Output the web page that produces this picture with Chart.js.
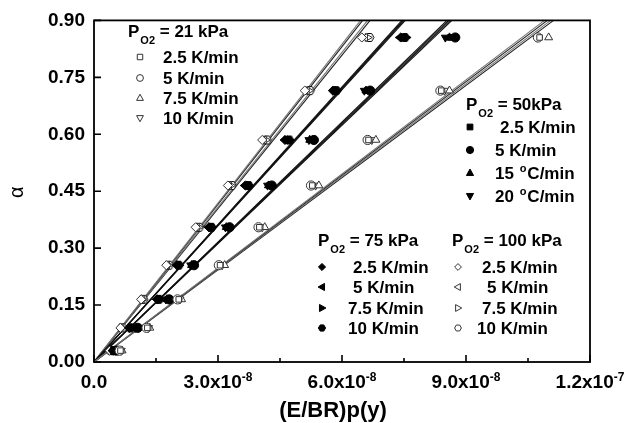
<!DOCTYPE html>
<html>
<head>
<meta charset="utf-8">
<script src="https://cdn.jsdelivr.net/npm/chart.js@4.4.1/dist/chart.umd.min.js"></script>
<style>
  html, body { margin: 0; padding: 0; background: #fff; }
  #wrap { width: 625px; height: 423px; position: relative; }
</style>
</head>
<body>
<div id="wrap"><canvas id="alphaChart"></canvas></div>
<script>
// ============================================
// DADOS (x em unidades de 1e-8)
// ============================================

const ALPHA = [0.03, 0.09, 0.165, 0.255, 0.355, 0.465, 0.585, 0.715, 0.855];

// PO2 = 21 kPa (abertos)
const P21_2_5 = [0.64, 1.29, 2.05, 3.05, 4.00, 5.28, 6.64, 8.40, 10.78];
const P21_5   = [0.62, 1.27, 2.02, 3.02, 3.98, 5.25, 6.62, 8.38, 10.74];
const P21_7_5 = [0.68, 1.35, 2.12, 3.16, 4.13, 5.44, 6.82, 8.60, 11.00];
const P21_10  = [0.66, 1.32, 2.08, 3.10, 4.07, 5.36, 6.72, 8.48, 10.72];

// PO2 = 50 kPa (cheios)
const P50_2_5 = [0.53, 1.03, 1.78, 2.38, 3.22, 4.24, 5.25, 6.60, 8.62];
const P50_5   = [0.55, 1.06, 1.82, 2.42, 3.28, 4.30, 5.32, 6.68, 8.74];
const P50_15  = [0.52, 1.02, 1.76, 2.36, 3.20, 4.22, 5.22, 6.58, 8.60];
const P50_20  = [0.51, 1.00, 1.74, 2.34, 3.18, 4.20, 5.20, 6.54, 8.50];

// PO2 = 75 kPa (cheios)
const P75_2_5 = [0.46, 0.86, 1.53, 2.01, 2.78, 3.66, 4.62, 5.78, 7.42];
const P75_5   = [0.45, 0.85, 1.52, 2.00, 2.77, 3.65, 4.62, 5.80, 7.40];
const P75_7_5 = [0.47, 0.89, 1.58, 2.06, 2.85, 3.75, 4.73, 5.88, 7.56];
const P75_10  = [0.47, 0.88, 1.57, 2.05, 2.84, 3.74, 4.72, 5.86, 7.52];

// PO2 = 100 kPa (abertos)
const P100_2_5 = [0.38, 0.64, 1.14, 1.75, 2.46, 3.24, 4.07, 5.10, 6.48];
const P100_5   = [0.39, 0.65, 1.16, 1.77, 2.49, 3.27, 4.11, 5.15, 6.56];
const P100_7_5 = [0.40, 0.67, 1.18, 1.80, 2.53, 3.31, 4.16, 5.20, 6.62];
const P100_10  = [0.41, 0.68, 1.19, 1.81, 2.54, 3.33, 4.18, 5.22, 6.66];

// retas ajustadas: x onde alfa = 0.90
const FIT_TOP  = 0.90;
const FIT_21   = [10.90, 10.97, 11.05, 11.12];
const FIT_50   = [8.54, 8.58, 8.62, 8.66];
const FIT_75   = [7.45, 7.48, 7.50, 7.53];
const FIT_100  = [6.45, 6.50, 6.62, 6.68];

// eixos
const X_TICKS     = [0, 3, 6, 9, 12];
const X_MINOR     = [1.5, 4.5, 7.5, 10.5];
const X_LABELS    = ['0.0', '3.0x10', '6.0x10', '9.0x10', '1.2x10'];
const X_EXPONENTS = ['', '-8', '-8', '-8', '-7'];
const Y_TICKS     = [0, 0.15, 0.30, 0.45, 0.60, 0.75, 0.90];
const X_TITLE     = '(E/BR)p(y)';
const Y_TITLE     = 'α';

const FONT = "'Liberation Sans', Arial, sans-serif";

// ============================================
// SÍMBOLOS
// ============================================

function hexImg(filled, r) {
  const c = document.createElement('canvas');
  const s = Math.ceil(r * 2 + 3);
  c.width = c.height = s;
  const g = c.getContext('2d');
  g.beginPath();
  for (let k = 0; k < 6; k++) {
    const a = Math.PI / 3 * k;
    const px = s / 2 + r * Math.cos(a), py = s / 2 + r * Math.sin(a);
    k ? g.lineTo(px, py) : g.moveTo(px, py);
  }
  g.closePath();
  g.fillStyle = filled ? '#000' : '#fff';
  g.fill();
  g.lineWidth = 1;
  g.strokeStyle = '#000';
  g.stroke();
  return c;
}

function drawSym(ctx, style, rot, filled, x, y, r) {
  ctx.save();
  ctx.translate(x, y);
  ctx.rotate(rot * Math.PI / 180);
  ctx.beginPath();
  if (style === 'rect') {
    ctx.rect(-r * 0.8, -r * 0.8, r * 1.6, r * 1.6);
  } else if (style === 'circle') {
    ctx.arc(0, 0, r, 0, Math.PI * 2);
  } else if (style === 'triangle') {
    ctx.moveTo(0, -r * 1.1);
    ctx.lineTo(r, r * 0.7);
    ctx.lineTo(-r, r * 0.7);
    ctx.closePath();
  } else if (style === 'rectRot') {
    ctx.moveTo(0, -r); ctx.lineTo(r, 0); ctx.lineTo(0, r); ctx.lineTo(-r, 0);
    ctx.closePath();
  } else if (style === 'hex') {
    for (let k = 0; k < 6; k++) {
      const a = Math.PI / 3 * k;
      k ? ctx.lineTo(r * Math.cos(a), r * Math.sin(a)) : ctx.moveTo(r, 0);
    }
    ctx.closePath();
  }
  ctx.fillStyle = filled ? '#000' : '#fff';
  ctx.fill();
  ctx.lineWidth = 1;
  ctx.strokeStyle = filled ? '#000' : '#333';
  ctx.stroke();
  ctx.restore();
}

// ============================================
// SÉRIES
// ============================================

const SERIES = [
  { xs: P21_2_5,  style: 'rect',     rot: 0,   filled: false, fit: FIT_21[0] },
  { xs: P21_5,    style: 'circle',   rot: 0,   filled: false, fit: FIT_21[1] },
  { xs: P21_7_5,  style: 'triangle', rot: 0,   filled: false, fit: FIT_21[2] },
  { xs: P21_10,   style: 'triangle', rot: 180, filled: false, fit: FIT_21[3] },
  { xs: P50_2_5,  style: 'rect',     rot: 0,   filled: true,  fit: FIT_50[0] },
  { xs: P50_5,    style: 'circle',   rot: 0,   filled: true,  fit: FIT_50[1] },
  { xs: P50_15,   style: 'triangle', rot: 0,   filled: true,  fit: FIT_50[2] },
  { xs: P50_20,   style: 'triangle', rot: 180, filled: true,  fit: FIT_50[3] },
  { xs: P75_2_5,  style: 'rectRot',  rot: 0,   filled: true,  fit: FIT_75[0] },
  { xs: P75_5,    style: 'triangle', rot: 270, filled: true,  fit: FIT_75[1] },
  { xs: P75_7_5,  style: 'triangle', rot: 90,  filled: true,  fit: FIT_75[2] },
  { xs: P75_10,   style: 'hex',      rot: 0,   filled: true,  fit: FIT_75[3] },
  { xs: P100_2_5, style: 'rectRot',  rot: 0,   filled: false, fit: FIT_100[0] },
  { xs: P100_5,   style: 'triangle', rot: 270, filled: false, fit: FIT_100[1] },
  { xs: P100_7_5, style: 'triangle', rot: 90,  filled: false, fit: FIT_100[2] },
  { xs: P100_10,  style: 'hex',      rot: 0,   filled: false, fit: FIT_100[3] },
];

const datasets = [];
SERIES.forEach((s, i) => {
  datasets.push({
    type: 'line',
    data: [{ x: 0, y: 0 }, { x: s.fit, y: FIT_TOP }],
    borderColor: s.filled ? '#111' : (i % 2 ? '#222' : '#777'),
    borderWidth: 1.1,
    pointRadius: 0,
    fill: false,
    order: 2,
  });
  datasets.push({
    type: 'scatter',
    data: s.xs.map((x, j) => ({ x, y: ALPHA[j] })),
    pointStyle: s.style === 'hex' ? hexImg(s.filled, 4.6) : s.style,
    rotation: s.rot,
    pointRadius: s.style === 'rect' ? 3.9 : 4.6,
    pointBackgroundColor: s.filled ? '#000' : '#fff',
    pointBorderColor: s.filled ? '#000' : '#333',
    pointBorderWidth: 1,
    order: 1,
  });
});

// ============================================
// LEGENDAS (texto com sub/sobrescrito)
// ============================================

const LEGENDS = [
  { title: ['P', 'O2', ' = 21 kPa'], tx: 128, ty: 37, items: [
    { s: 0,  sx: 140, tx: 163, y: 57, t: ['2.5 K/min'] },
    { s: 1,  sx: 140, tx: 163, y: 78, t: ['5 K/min'] },
    { s: 2,  sx: 140, tx: 163, y: 98, t: ['7.5 K/min'] },
    { s: 3,  sx: 140, tx: 163, y: 118, t: ['10 K/min'] },
  ]},
  { title: ['P', 'O2', ' = 50kPa'], tx: 466, ty: 110, items: [
    { s: 4,  sx: 470, tx: 500, y: 127, t: ['2.5 K/min'] },
    { s: 5,  sx: 470, tx: 495, y: 150, t: ['5 K/min'] },
    { s: 6,  sx: 470, tx: 495, y: 173, t: ['15 ', 'o', 'C/min'], sup: true },
    { s: 7,  sx: 470, tx: 495, y: 196, t: ['20 ', 'o', 'C/min'], sup: true },
  ]},
  { title: ['P', 'O2', ' = 75 kPa'], tx: 318, ty: 246, items: [
    { s: 8,  sx: 322, tx: 353, y: 267, t: ['2.5 K/min'] },
    { s: 9,  sx: 322, tx: 353, y: 287, t: ['5 K/min'] },
    { s: 10, sx: 322, tx: 348, y: 308, t: ['7.5 K/min'] },
    { s: 11, sx: 322, tx: 348, y: 328, t: ['10 K/min'] },
  ]},
  { title: ['P', 'O2', ' = 100 kPa'], tx: 452, ty: 246, items: [
    { s: 12, sx: 458, tx: 482, y: 267, t: ['2.5 K/min'] },
    { s: 13, sx: 458, tx: 487, y: 287, t: ['5 K/min'] },
    { s: 14, sx: 458, tx: 482, y: 308, t: ['7.5 K/min'] },
    { s: 15, sx: 458, tx: 477, y: 328, t: ['10 K/min'] },
  ]},
];

function drawTitle(ctx, parts, x, y) {
  ctx.font = `bold 17px ${FONT}`;
  ctx.fillText(parts[0], x, y);
  x += ctx.measureText(parts[0]).width + 1;
  ctx.font = `bold 11px ${FONT}`;
  ctx.fillText(parts[1], x, y + 7);
  x += ctx.measureText(parts[1]).width;
  ctx.font = `bold 17px ${FONT}`;
  ctx.fillText(parts[2], x, y);
}

const decoPlugin = {
  id: 'deco',
  afterDraw(chart) {
    const ctx = chart.ctx;
    const a = chart.chartArea;
    const xs = chart.scales.x, ys = chart.scales.y;
    ctx.save();

    // moldura
    ctx.strokeStyle = '#000';
    ctx.lineWidth = 1.8;
    ctx.strokeRect(a.left, a.top, a.right - a.left, a.bottom - a.top);

    // ticks para dentro
    ctx.lineWidth = 1.6;
    ctx.beginPath();
    X_TICKS.forEach(v => { const p = xs.getPixelForValue(v); ctx.moveTo(p, a.bottom); ctx.lineTo(p, a.bottom - 7); });
    X_MINOR.forEach(v => { const p = xs.getPixelForValue(v); ctx.moveTo(p, a.bottom); ctx.lineTo(p, a.bottom - 4); });
    Y_TICKS.forEach(v => { const p = ys.getPixelForValue(v); ctx.moveTo(a.left, p); ctx.lineTo(a.left + 7, p); });
    ctx.stroke();

    // rótulos do eixo x com expoente
    ctx.fillStyle = '#000';
    ctx.textBaseline = 'alphabetic';
    ctx.textAlign = 'left';
    X_TICKS.forEach((v, i) => {
      const p = xs.getPixelForValue(v);
      ctx.font = `bold 19px ${FONT}`;
      const w1 = ctx.measureText(X_LABELS[i]).width;
      ctx.font = `bold 12px ${FONT}`;
      const w2 = X_EXPONENTS[i] ? ctx.measureText(X_EXPONENTS[i]).width : 0;
      const x0 = p - (w1 + w2) / 2;
      ctx.font = `bold 19px ${FONT}`;
      ctx.fillText(X_LABELS[i], x0, 388);
      if (w2) {
        ctx.font = `bold 12px ${FONT}`;
        ctx.fillText(X_EXPONENTS[i], x0 + w1, 381);
      }
    });

    // títulos dos eixos
    ctx.font = `bold 22px ${FONT}`;
    ctx.textAlign = 'center';
    ctx.fillText(X_TITLE, 333, 417);
    ctx.save();
    ctx.translate(17, (a.top + a.bottom) / 2 + 1);
    ctx.rotate(-Math.PI / 2);
    ctx.font = `20px ${FONT}`;
    ctx.textBaseline = 'middle';
    ctx.fillText(Y_TITLE, 0, 0);
    ctx.restore();

    // legendas
    ctx.textAlign = 'left';
    ctx.textBaseline = 'alphabetic';
    LEGENDS.forEach(L => {
      ctx.fillStyle = '#000';
      drawTitle(ctx, L.title, L.tx, L.ty);
      L.items.forEach(it => {
        const s = SERIES[it.s];
        drawSym(ctx, s.style, s.rot, s.filled, it.sx, it.y, s.filled ? 3.6 : 3.4);
        ctx.fillStyle = '#000';
        ctx.font = `bold 17px ${FONT}`;
        if (it.sup) {
          let x = it.tx;
          ctx.fillText(it.t[0], x, it.y + 6);
          x += ctx.measureText(it.t[0]).width + 1;
          ctx.font = `bold 11px ${FONT}`;
          ctx.fillText(it.t[1], x, it.y - 1);
          x += ctx.measureText(it.t[1]).width + 1;
          ctx.font = `bold 17px ${FONT}`;
          ctx.fillText(it.t[2], x, it.y + 6);
        } else {
          ctx.fillText(it.t[0], it.tx, it.y + 6);
        }
      });
    });

    ctx.restore();
  },
};

// ============================================
// GRÁFICO
// ============================================

new Chart(document.getElementById('alphaChart'), {
  type: 'scatter',
  data: { datasets },
  plugins: [decoPlugin],
  options: {
    responsive: true,
    maintainAspectRatio: false,
    animation: false,
    events: [],
    layout: { padding: { left: 0, right: 35, top: 20, bottom: 0 } },
    plugins: { legend: { display: false }, tooltip: { enabled: false } },
    scales: {
      x: {
        type: 'linear',
        min: 0,
        max: 12,
        grid: { display: false, drawTicks: false },
        border: { display: false },
        ticks: { display: false },
        afterFit: (s) => { s.height = 61; },
      },
      y: {
        type: 'linear',
        min: 0,
        max: 0.9,
        grid: { display: false, drawTicks: false },
        border: { display: false },
        afterBuildTicks: (s) => { s.ticks = Y_TICKS.map(v => ({ value: v })); },
        afterFit: (s) => { s.width = 94; },
        ticks: {
          padding: 9,
          color: '#000',
          font: { size: 19, weight: 'bold', family: FONT },
          callback: (v) => Number(v).toFixed(2),
        },
      },
    },
  },
});
</script>
</body>
</html>
